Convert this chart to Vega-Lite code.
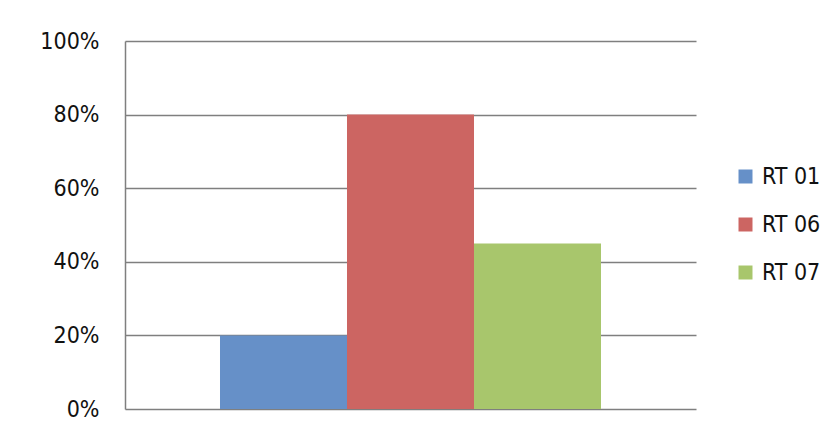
{
  "$schema": "https://vega.github.io/schema/vega-lite/v6.json",
  "autosize": "none",
  "width": 571,
  "height": 368,
  "padding": {"left": 125, "top": 41, "right": 140, "bottom": 27},
  "background": "white",
  "config": {
    "view": {"stroke": null},
    "font": "DejaVu Sans Condensed"
  },
  "data": {
    "values": [
      {"series": "RT 01", "value": 0.2},
      {"series": "RT 06", "value": 0.8},
      {"series": "RT 07", "value": 0.45}
    ]
  },
  "mark": {"type": "bar"},
  "encoding": {
    "x": {
      "field": "series",
      "type": "nominal",
      "scale": {"paddingInner": 0, "paddingOuter": 0.748},
      "axis": {"labels": false, "ticks": false, "title": null, "domain": false}
    },
    "y": {
      "field": "value",
      "type": "quantitative",
      "scale": {"domain": [0, 1], "nice": false},
      "axis": {
        "format": ".0%",
        "values": [0, 0.2, 0.4, 0.6, 0.8, 1],
        "title": null,
        "ticks": false,
        "labelFont": "DejaVu Sans Condensed",
        "labelFontSize": 23,
        "labelColor": "#111111",
        "labelPadding": 26,
        "grid": true,
        "gridColor": "#7f7f7f",
        "gridWidth": 1.5,
        "domain": true,
        "domainColor": "#7f7f7f",
        "domainWidth": 1.5
      }
    },
    "color": {
      "field": "series",
      "type": "nominal",
      "scale": {
        "domain": ["RT 01", "RT 06", "RT 07"],
        "range": ["#6690C8", "#CC6562", "#A8C66C"]
      },
      "legend": {
        "title": null,
        "orient": "none",
        "legendX": 609,
        "legendY": 124,
        "symbolType": "square",
        "symbolSize": 196,
        "symbolStrokeWidth": 0,
        "labelFont": "DejaVu Sans Condensed",
        "labelFontSize": 23,
        "labelColor": "#111111",
        "labelOffset": 5,
        "rowPadding": 24
      }
    }
  }
}
